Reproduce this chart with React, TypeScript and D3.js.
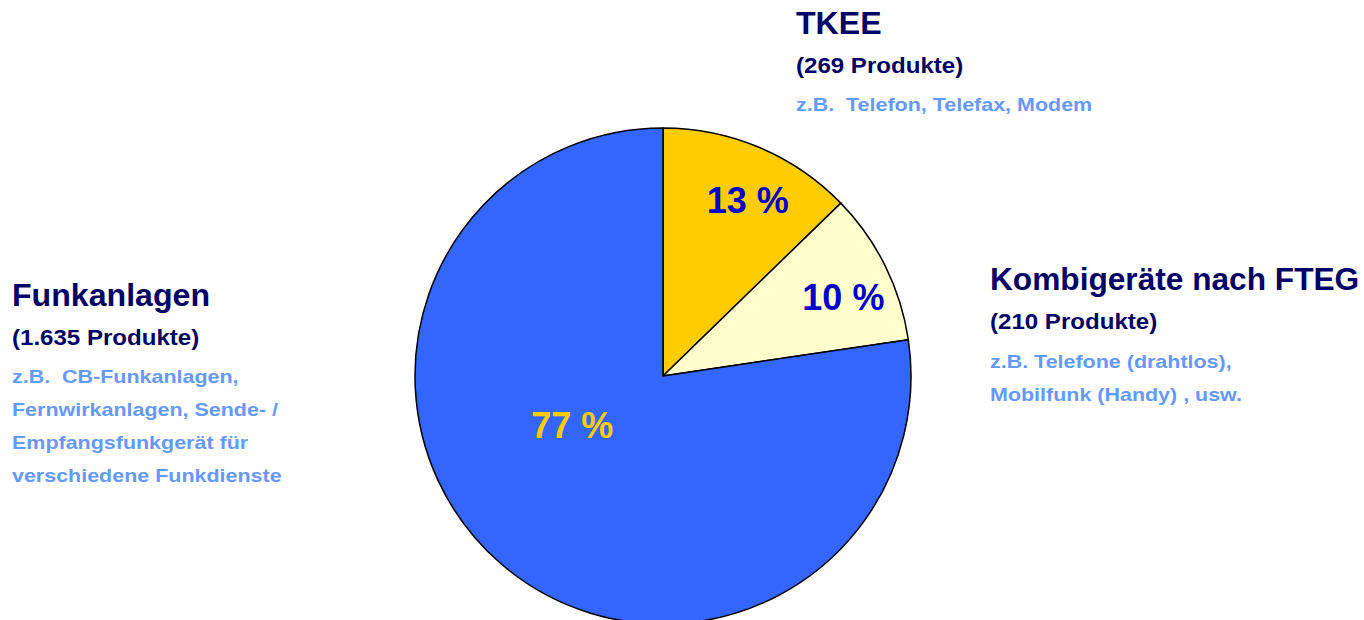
import React from "react";
import * as d3 from "d3";

const categories = ["TKEE", "Kombigeräte nach FTEG", "Funkanlagen"];
const counts = [269, 210, 1635];
const percentLabels = ["13 %", "10 %", "77 %"];
const countLabels = ["(269 Produkte)", "(210 Produkte)", "(1.635 Produkte)"];
const exampleLines = [
  ["z.B.  Telefon, Telefax, Modem"],
  ["z.B. Telefone (drahtlos),", "Mobilfunk (Handy) , usw."],
  ["z.B.  CB-Funkanlagen,", "Fernwirkanlagen, Sende- /", "Empfangsfunkgerät für", "verschiedene Funkdienste"],
];

const sliceColors = ["#FFCC00", "#FFFFCC", "#3366FF"];
const pctColors = ["#0000CC", "#0000CC", "#FFCC00"];
// label placement (angle in degrees clockwise from top, distance from centre)
const pctPlacement = [
  { a: 25.8, r: 195 },
  { a: 66.3, r: 197 },
  { a: 241.7, r: 103 },
];
const textBlocks = [
  { x: 796, y: 34, exY: 111, ts: 1.02 },
  { x: 990, y: 290, exY: 368, ts: 1.005 },
  { x: 12, y: 306, exY: 383, ts: 1.02 },
];

const W = 1364;
const H = 620;
const cx = 663;
const cy = 376;
const R = 248;
const FONT = "'Liberation Sans', Arial, Helvetica, sans-serif";

export default function App() {
  const pie = d3.pie<number>().sort(null).value((d) => d);
  const arcs = pie(counts);
  const arc = d3.arc<d3.PieArcDatum<number>>().innerRadius(0).outerRadius(R);

  return (
    <svg width={W} height={H} style={{ position: "absolute", left: 0, top: 0, background: "#fff" }} fontFamily={FONT}>
      <g transform={`translate(${cx},${cy})`}>
        {arcs.map((a, i) => (
          <path key={i} d={arc(a) || ""} fill={sliceColors[i]} stroke="#000" strokeWidth={1.5} strokeLinejoin="round" />
        ))}
        {arcs.map((a, i) => {
          const ang = (pctPlacement[i].a * Math.PI) / 180;
          const x = Math.sin(ang) * pctPlacement[i].r;
          const y = -Math.cos(ang) * pctPlacement[i].r;
          return (
            <text key={i} x={x} y={y} dy="0.36em" textAnchor="middle" fontWeight="bold" fontSize={36} fill={pctColors[i]}>
              {percentLabels[i]}
            </text>
          );
        })}
      </g>
      {categories.map((c, i) => {
        const b = textBlocks[i];
        return (
          <g key={c}>
            <text transform={`translate(${b.x},${b.y}) scale(${b.ts},1)`} fontWeight="bold" fontSize={31.5} fill="#000066">{c}</text>
            <text transform={`translate(${b.x},${b.y + 39}) scale(1.095,1)`} fontWeight="bold" fontSize={22} fill="#000066">{countLabels[i]}</text>
            {exampleLines[i].map((l, j) => (
              <text key={j} transform={`translate(${b.x},${b.exY + j * 33}) scale(1.13,1)`} fontWeight="bold" fontSize={19} fill="#6699FF" style={{ whiteSpace: "pre" }}>{l}</text>
            ))}
          </g>
        );
      })}
    </svg>
  );
}
